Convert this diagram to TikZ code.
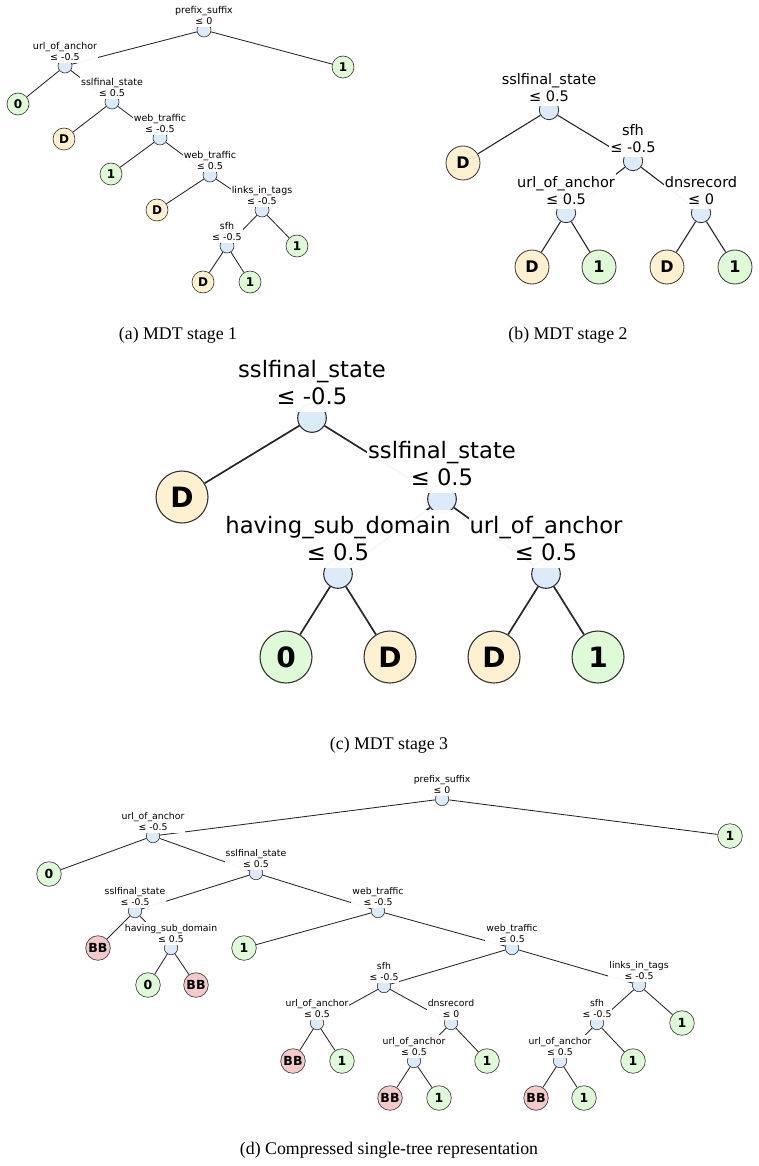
\documentclass[tikz,border=0pt]{standalone}
\usepackage{fontspec}
\setmainfont{Liberation Serif}
\newfontfamily\dejavu{DejaVu Sans}
\usetikzlibrary{backgrounds}

\definecolor{decblue}{HTML}{DCEBFA}
\definecolor{leafgreen}{HTML}{DFFAD6}
\definecolor{leaforange}{HTML}{FFF1CF}
\definecolor{leafred}{HTML}{F3C9C9}
\definecolor{outline}{HTML}{333333}

\newcommand\condfont{\dejavu\fontsize{9.5}{11.2}\selectfont}
\newcommand\leaffont{\dejavu\bfseries\fontsize{12}{14}\selectfont}
\newcommand\decsize{14pt}
\newcommand\leafsize{22pt}

\tikzset{
  dec/.style={circle, draw=outline, fill=decblue, inner sep=0pt, minimum size=\decsize},
  leaf/.style={circle, draw=outline, inner sep=0pt, minimum size=\leafsize, font=\leaffont},
  lgreen/.style={leaf, fill=leafgreen},
  lorange/.style={leaf, fill=leaforange},
  lred/.style={leaf, fill=leafred},
  cond/.style={fill=white, fill opacity=0.96, text opacity=1, align=center,
    inner xsep=1pt, font=\condfont},
  edge/.style={draw=black!85},
  caption/.style={font=\fontsize{17.8}{20}\selectfont}
}

\begin{document}
\begin{tikzpicture}[x=1pt, y=-1pt]
   \useasboundingbox (0,0) rectangle (759,1166);

   % (a) MDT stage 1
   \begin{scope}[label distance=-4.9pt, line width=0.6pt, cond/.append style={inner ysep=2.85pt},
       edge/.append style={line width=0.85pt}]
   \path (204,30) node[dec, label={[cond]above:{prefix\_suffix\\≤ 0}}] (a0) {};
   \path (343,67) node[lgreen] (a1) {1};
   \path (65,66) node[dec, label={[cond]above:{url\_of\_anchor\\≤ -0.5}}] (a2) {};
   \path (18,104) node[lgreen] (a3) {0};
   \path (112,102) node[dec, label={[cond]above:{sslfinal\_state\\≤ 0.5}}] (a4) {};
   \path (64,139) node[lorange] (a5) {D};
   \path (160,138) node[dec, label={[cond]above:{web\_traffic\\≤ -0.5}}] (a6) {};
   \path (111,174) node[lgreen] (a7) {1};
   \path (210,175) node[dec, label={[cond]above:{web\_traffic\\≤ 0.5}}] (a8) {};
   \path (157,210) node[lorange] (a9) {D};
   \path (262,210) node[dec, label={[cond]above:{links\_in\_tags\\≤ -0.5}}] (a10) {};
   \path (297,246) node[lgreen] (a11) {1};
   \path (227,246) node[dec, label={[cond]above:{sfh\\≤ -0.5}}] (a12) {};
   \path (203,282) node[lorange] (a13) {D};
   \path (250,282) node[lgreen] (a14) {1};
   \begin{scope}[on background layer]
   \draw[edge] (a0) -- (a2) (a0) -- (a1);
   \draw[edge] (a2) -- (a3) (a2) -- (a4);
   \draw[edge] (a4) -- (a5) (a4) -- (a6);
   \draw[edge] (a6) -- (a7) (a6) -- (a8);
   \draw[edge] (a8) -- (a9) (a8) -- (a10);
   \draw[edge] (a10) -- (a12) (a10) -- (a11);
   \draw[edge] (a12) -- (a13) (a12) -- (a14);
   \end{scope}
   \end{scope}
   \path (178,335) node[caption] (capa) {(a) MDT stage 1};

   % (b) MDT stage 2
   \begin{scope}[label distance=-6.5pt, line width=0.8pt, cond/.append style={inner ysep=4.3pt},
       edge/.append style={line width=1.1pt}]
   \def\condfont{\dejavu\fontsize{14.5}{17}\selectfont}
   \def\leaffont{\dejavu\bfseries\fontsize{16}{19}\selectfont}
   \def\decsize{19.4pt}
   \def\leafsize{34pt}
   \path (549,110) node[dec, label={[cond]above:{sslfinal\_state\\≤ 0.5}}] (b0) {};
   \path (463,163) node[lorange] (b1) {D};
   \path (633,161) node[dec, label={[cond]above:{sfh\\≤ -0.5}}] (b2) {};
   \path (566,213) node[dec, label={[cond]above:{url\_of\_anchor\\≤ 0.5}}] (b3) {};
   \path (701,213) node[dec, label={[cond]above:{dnsrecord\\≤ 0}}] (b4) {};
   \path (532,267) node[lorange] (b5) {D};
   \path (599,267) node[lgreen] (b6) {1};
   \path (667,267) node[lorange] (b7) {D};
   \path (735,267) node[lgreen] (b8) {1};
   \begin{scope}[on background layer]
   \draw[edge] (b0) -- (b1) (b0) -- (b2);
   \draw[edge] (b2) -- (b3) (b2) -- (b4);
   \draw[edge] (b3) -- (b5) (b3) -- (b6);
   \draw[edge] (b4) -- (b7) (b4) -- (b8);
   \end{scope}
   \end{scope}
   \path (568,335) node[caption] (capb) {(b) MDT stage 2};

   % (c) MDT stage 3
   \begin{scope}[label distance=-9.3pt, line width=1.1pt, cond/.append style={inner ysep=6.8pt},
       edge/.append style={line width=1.7pt}]
   \def\condfont{\dejavu\fontsize{22.7}{26.8}\selectfont}
   \def\leaffont{\dejavu\bfseries\fontsize{28}{33}\selectfont}
   \def\decsize{28.6pt}
   \def\leafsize{52pt}
   \path (312,418) node[dec, label={[cond]above:{sslfinal\_state\\≤ -0.5}}] (c0) {};
   \path (182,497) node[lorange] (c1) {D};
   \path (442,499) node[dec, label={[cond]above:{sslfinal\_state\\≤ 0.5}}] (c2) {};
   \path (338,574) node[dec, label={[cond]above:{having\_sub\_domain\\≤ 0.5}}] (c3) {};
   \path (546,574) node[dec, label={[cond]above:{url\_of\_anchor\\≤ 0.5}}] (c4) {};
   \path (286,657) node[lgreen] (c5) {0};
   \path (390,657) node[lorange] (c6) {D};
   \path (494,657) node[lorange] (c7) {D};
   \path (598,657) node[lgreen] (c8) {1};
   \begin{scope}[on background layer]
   \draw[edge] (c0) -- (c1) (c0) -- (c2);
   \draw[edge] (c2) -- (c3) (c2) -- (c4);
   \draw[edge] (c3) -- (c5) (c3) -- (c6);
   \draw[edge] (c4) -- (c7) (c4) -- (c8);
   \end{scope}
   \end{scope}
   \path (389,745) node[caption] (capc) {(c) MDT stage 3};

   % (d) compressed single tree
   \begin{scope}[label distance=-4.65pt, line width=0.6pt, cond/.append style={inner ysep=2.8pt},
       edge/.append style={line width=0.85pt}]
   \def\condfont{\dejavu\fontsize{9.3}{11}\selectfont}
   \def\leaffont{\dejavu\bfseries\fontsize{12.5}{15}\selectfont}
   \def\decsize{13.4pt}
   \def\leafsize{24.6pt}
   \path (442,799) node[dec, label={[cond]above:{prefix\_suffix\\≤ 0}}] (d0) {};
   \path (730,836) node[lgreen] (d1) {1};
   \path (153,836) node[dec, label={[cond]above:{url\_of\_anchor\\≤ -0.5}}] (d2) {};
   \path (49,874) node[lgreen] (d3) {0};
   \path (256,873) node[dec, label={[cond]above:{sslfinal\_state\\≤ 0.5}}] (d4) {};
   \path (135,911) node[dec, label={[cond]above:{sslfinal\_state\\≤ -0.5}}] (d5) {};
   \path (98,948) node[lred] (d6) {BB};
   \path (171,948) node[dec, label={[cond]above:{having\_sub\_domain\\≤ 0.5}}] (d7) {};
   \path (148,985) node[lgreen] (d8) {0};
   \path (196,985) node[lred] (d9) {BB};
   \path (378,911) node[dec, label={[cond]above:{web\_traffic\\≤ -0.5}}] (d10) {};
   \path (244,948) node[lgreen] (d11) {1};
   \path (512,948) node[dec, label={[cond]above:{web\_traffic\\≤ 0.5}}] (d12) {};
   \path (384,986) node[dec, label={[cond]above:{sfh\\≤ -0.5}}] (d13) {};
   \path (317,1023) node[dec, label={[cond]above:{url\_of\_anchor\\≤ 0.5}}] (d14) {};
   \path (293,1061) node[lred] (d15) {BB};
   \path (342,1061) node[lgreen] (d16) {1};
   \path (451,1023) node[dec, label={[cond]above:{dnsrecord\\≤ 0}}] (d17) {};
   \path (414,1061) node[dec, label={[cond]above:{url\_of\_anchor\\≤ 0.5}}] (d18) {};
   \path (487,1061) node[lgreen] (d19) {1};
   \path (390,1098) node[lred] (d20) {BB};
   \path (439,1098) node[lgreen] (d21) {1};
   \path (639,985) node[dec, label={[cond]above:{links\_in\_tags\\≤ -0.5}}] (d22) {};
   \path (682,1023) node[lgreen] (d23) {1};
   \path (597,1023) node[dec, label={[cond]above:{sfh\\≤ -0.5}}] (d24) {};
   \path (633,1061) node[lgreen] (d25) {1};
   \path (560,1061) node[dec, label={[cond]above:{url\_of\_anchor\\≤ 0.5}}] (d26) {};
   \path (536,1098) node[lred] (d27) {BB};
   \path (584,1098) node[lgreen] (d28) {1};
   \begin{scope}[on background layer]
   \draw[edge] (d0) -- (d2) (d0) -- (d1);
   \draw[edge] (d2) -- (d3) (d2) -- (d4);
   \draw[edge] (d4) -- (d5) (d4) -- (d10);
   \draw[edge] (d5) -- (d6) (d5) -- (d7);
   \draw[edge] (d7) -- (d8) (d7) -- (d9);
   \draw[edge] (d10) -- (d11) (d10) -- (d12);
   \draw[edge] (d12) -- (d13) (d12) -- (d22);
   \draw[edge] (d13) -- (d14) (d13) -- (d17);
   \draw[edge] (d14) -- (d15) (d14) -- (d16);
   \draw[edge] (d17) -- (d18) (d17) -- (d19);
   \draw[edge] (d18) -- (d20) (d18) -- (d21);
   \draw[edge] (d22) -- (d24) (d22) -- (d23);
   \draw[edge] (d24) -- (d26) (d24) -- (d25);
   \draw[edge] (d26) -- (d27) (d26) -- (d28);
   \end{scope}
   \end{scope}
   \path (389,1150) node[caption] (capd) {(d) Compressed single-tree representation};
\end{tikzpicture}
\end{document}
